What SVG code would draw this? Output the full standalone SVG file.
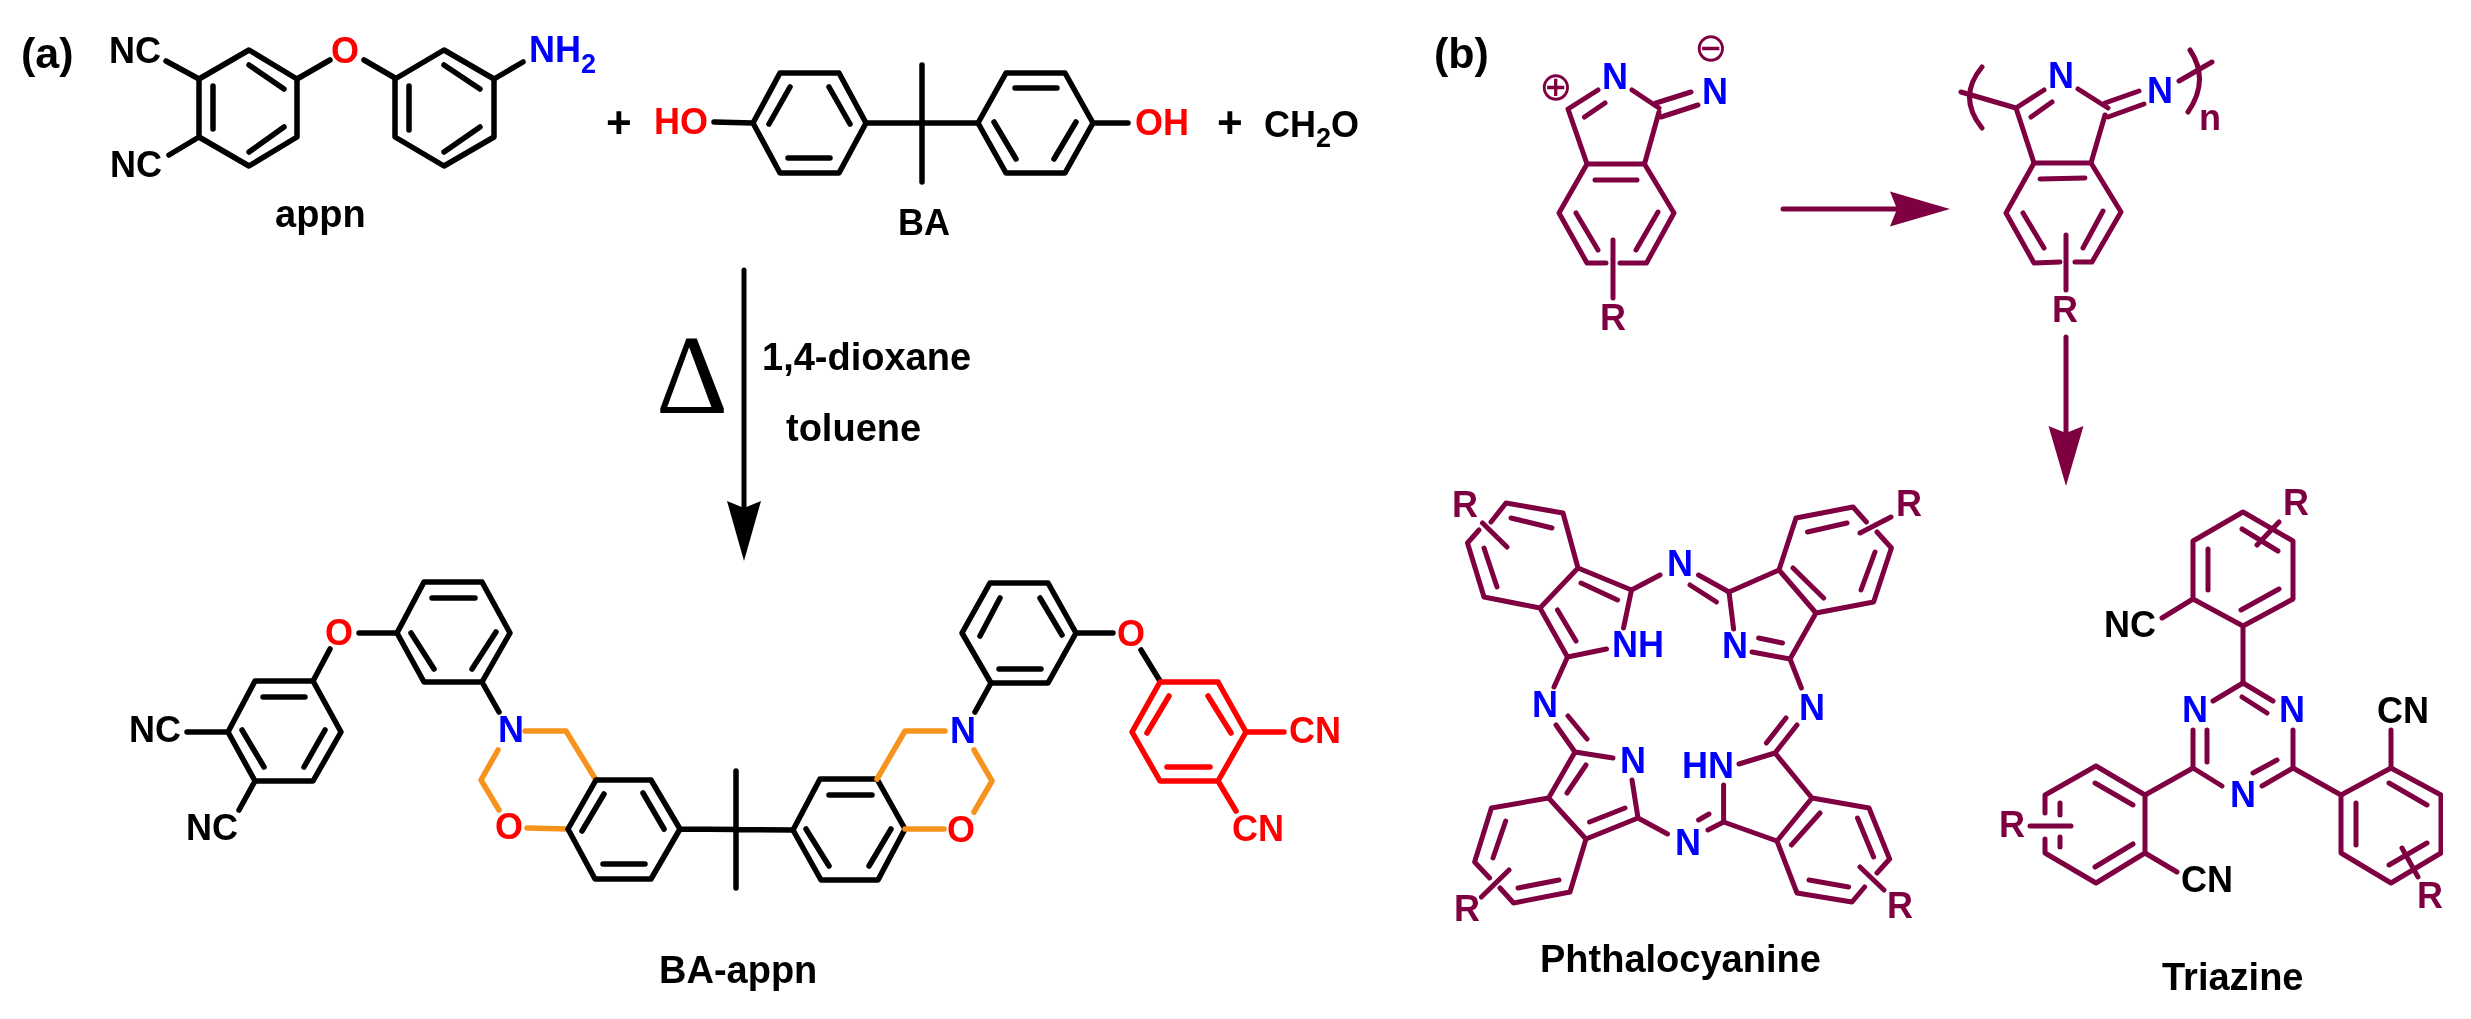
<svg xmlns="http://www.w3.org/2000/svg" width="2471" height="1019" viewBox="0 0 2471 1019">
<defs>
<style>
text{font-family:"Liberation Sans",Arial,sans-serif;font-weight:bold;font-size:36px;fill:#000}
.k,.r,.o,.p{fill:none;stroke-linecap:round;stroke-linejoin:round}
.k{stroke:#000;stroke-width:5.5}
.r{stroke:#ff0000;stroke-width:5.5}
.o{stroke:#f7931e;stroke-width:5.5}
.p{stroke:#7f0040;stroke-width:5}
text.bl{fill:#0000ff}
text.rd{fill:#ff0000}
text.pu{fill:#7f0040}
text.lab{font-size:38px}
text.pan{font-size:43px}
text.pl{font-size:44px}
text.ch{font-family:"DejaVu Sans",sans-serif;font-weight:normal;font-size:40px;fill:#7f0040}
text.del{font-family:"Liberation Serif",serif;font-weight:normal;font-size:112px}
tspan.s{font-size:27px}
</style>
<filter id="soft" x="0" y="0" width="100%" height="100%"><feGaussianBlur stdDeviation="0.7"/></filter>
<marker id="hk" markerUnits="userSpaceOnUse" markerWidth="62" markerHeight="40" viewBox="0 -20 62 40" refX="7" refY="0" orient="auto"><path d="M0,-17 L60,0 L0,17 L7,0 Z" fill="#000"/></marker>
<marker id="hp" markerUnits="userSpaceOnUse" markerWidth="62" markerHeight="40" viewBox="0 -20 62 40" refX="7" refY="0" orient="auto"><path d="M0,-17.5 L60,0 L0,17.5 L7,0 Z" fill="#7f0040"/></marker>
</defs>
<rect width="2471" height="1019" fill="#fff"/>
<g filter="url(#soft)">

<text id="label-a" class="pan" x="21" y="68">(a)</text>
<text id="label-b" class="pan" x="1434" y="68">(b)</text>

<g id="appn">
<path class="k" d="M249,50 L297,79 L297,137 L249,166 L199,137 L199,79 Z M249,65 L284,89 M213,86 L213,129 M249,152 L284,127 M166,61 L199,79 M169,155 L199,137 M297,79 L330,60 M364,60 L395,78"/>
<path class="k" d="M444,50 L494,79 L494,137 L444,166 L395,137 L395,79 Z M444,65 L480,89 M409,86 L409,130 M444,152 L480,127 M494,79 L523,62"/>
<text x="109" y="63">NC</text>
<text x="110" y="177">NC</text>
<text class="rd" x="331" y="63">O</text>
<text class="bl" x="529" y="62">NH<tspan class="s" dy="11">2</tspan></text>
<text class="lab" x="275" y="227">appn</text>
</g>

<g id="plus-1"><text class="pl" x="606" y="138">+</text></g>

<g id="BA">
<path class="k" d="M753,123 L780,73 L839,73 L866,123 L839,173 L780,173 Z M769,124 L790,87 M829,87 L850,124 M788,158 L830,158 M714,122 L753,123 M866,123 L978,123 M922,65 L922,182"/>
<path class="k" d="M978,123 L1006,73 L1065,73 L1093,123 L1065,173 L1006,173 Z M1015,88 L1057,88 M994,122 L1016,159 M1054,159 L1076,122 M1093,123 L1128,123"/>
<text class="rd" x="654" y="134">HO</text>
<text class="rd" x="1135" y="135">OH</text>
<text x="898" y="235">BA</text>
</g>

<g id="plus-2"><text class="pl" x="1217" y="138">+</text></g>
<g id="CH2O"><text x="1264" y="137">CH<tspan class="s" dy="10">2</tspan><tspan dy="-10">O</tspan></text></g>

<g id="conditions">
<text class="del" x="656" y="413">Δ</text>
<text class="lab" x="762" y="370">1,4-dioxane</text>
<text class="lab" x="786" y="441">toluene</text>
</g>

<g id="BA-appn">
<path class="k" d="M255,681 L313,681 L341,732 L313,781 L255,781 L228,732 Z M263,697 L305,697 M325,730 L304,767 M242,730 L264,767 M187,732 L228,732 M255,781 L239,810 M313,681 L330,649 M359,633 L397,633"/>
<path class="k" d="M397,633 L424,582 L482,582 L510,633 L482,682 L424,682 Z M432,598 L475,598 M411,633 L434,669 M472,669 L496,632 M482,682 L499,712"/>
<path class="o" d="M525,731 L566,731 L596,780 M498,750 L481,780 L499,810 M527,828 L568,829"/>
<path class="k" d="M596,780 L651,780 L680,829 L651,879 L595,879 L568,829 Z M604,794 L582,831 M643,793 L664,829 M603,864 L645,864 M680,829 L793,830 M736,771 L736,888"/>
<path class="k" d="M793,830 L820,779 L877,779 L905,829 L878,880 L821,880 Z M829,795 L872,795 M806,829 L829,866 M869,866 L891,829"/>
<path class="o" d="M877,779 L905,731 L945,731 M974,750 L992,781 L974,812 M905,829 L944,829"/>
<path class="k" d="M975,712 L991,683 M991,683 L962,633 L990,583 L1048,583 L1076,633 L1048,683 Z M1000,598 L980,636 M1040,598 L1062,635 M999,669 L1041,669 M1076,633 L1113,633 M1141,650 L1160,681"/>
<path class="r" d="M1160,682 L1218,682 L1246,732 L1218,781 L1160,781 L1132,732 Z M1169,696 L1147,733 M1208,696 L1231,733 M1167,767 L1210,767 M1246,732 L1284,732 M1218,781 L1236,811"/>
<text x="129" y="742">NC</text>
<text x="186" y="840">NC</text>
<text class="rd" x="325" y="645">O</text>
<text class="bl" x="498" y="742">N</text>
<text class="rd" x="495" y="839">O</text>
<text class="bl" x="950" y="743">N</text>
<text class="rd" x="947" y="842">O</text>
<text class="rd" x="1117" y="646">O</text>
<text class="rd" x="1289" y="743">CN</text>
<text class="rd" x="1232" y="841">CN</text>
<text class="lab" x="659" y="983">BA-appn</text>
</g>

<g id="monomer">
<path class="p" d="M1568,109 L1598,90 M1584.5,117 L1605,103 M1632,90 L1659,108 M1656,103 L1691,92 M1661,117 L1698,105 M1568,109 L1587,164 M1659,112 L1644.5,164 M1587,164 L1644.5,164 M1595,180 L1637,180 M1606,263 L1587,263 L1559,213 L1587,164 M1620,263 L1646.5,263 L1674,213 L1644.5,164 M1576,213 L1598,250 M1658,212 L1636,250 M1613,240 L1613,298"/>
<text class="bl" x="1602" y="89">N</text>
<text class="bl" x="1702" y="104">N</text>
<text class="ch" x="1539" y="100">⊕</text>
<text class="ch" x="1694" y="61">⊖</text>
<text class="pu" x="1600" y="330">R</text>
</g>

<g id="polymer">
<path class="p" d="M1961,92 L2016,108 L2044,90 M2031,117 L2052,102 M2078,89 L2108,108 M2105,103 L2139,91 M2108,117 L2144,104 M2016,108 L2034,163 M2105,115 L2091,163 L2034,163 M2040,179 L2085,178 M2060,262 L2034,263 L2006,213 L2034,163 M2075,262 L2092,262 L2121,212 L2091,163 M2023,213 L2044,248 M2103,211 L2083,248 M2066,235 L2066,290 M1982,67 Q1957,97 1982,128 M2190,50 Q2210,80 2188,112 M2179,81 L2212,62"/>
<text class="bl" x="2048" y="88">N</text>
<text class="bl" x="2147" y="103">N</text>
<text class="pu" x="2052" y="322">R</text>
<text class="pu" x="2199" y="130">n</text>
</g>

<g id="phthalocyanine">
<path class="p" d="M1491,522 L1506,503 L1563,513 L1578,568 L1540,608 L1484,597 L1467.5,543 L1479,530 M1511,518 L1552,528 M1484,548 L1497,587 M1482.5,523 L1507,547 M1581,583 L1617.5,600 M1557.5,610 L1576,641 M1578,568 L1631.5,590 L1623.5,628 M1540,608 L1567.5,657 L1606.5,649 M1631.5,590 L1660,575 M1698.5,575 L1729,592 M1690,585 L1716.5,602"/>
<path class="p" d="M1729,592 L1779,570 M1729,592 L1733.6,629 M1752,652 L1790,659 M1758.6,638 L1782.5,643 M1790,659 L1816,613 M1779,570 L1816,613 M1793,568 L1823.6,598 M1866.4,522 L1853,507 L1796,518 L1779,570 M1877,532 L1891.4,548 L1873.6,602 L1816,613 M1807.5,532 L1847,523 M1875,552 L1861,590 M1860,533 L1891,517 M1790,659 L1801.4,688"/>
<path class="p" d="M1797,725 L1775,753 M1786,718 L1766.4,743 M1775,753 L1739,764 M1775,753 L1812,798 M1723.6,785 L1723.6,822 L1777,841 L1812,798 M1791.4,845 L1820,813 M1889.6,859 L1869,808 L1812,798 M1889.6,859 L1877,873 M1864.6,887 L1852,902 L1797,893 L1777,841 M1857.5,818 L1873.6,857 M1809,880 L1848.6,887 M1860,867 L1884,890 M1723.6,822 L1708,830 M1709,814 L1698.6,820"/>
<path class="p" d="M1667.5,834 L1638,818 L1632,780 M1613,758 L1575,752 L1548.6,798 L1586,839 L1638,818 M1586,765 L1567,793 M1589.6,822 L1625,808 M1548.6,798 L1491.4,808 L1474.6,862 L1489.6,878 M1500,888 L1513.6,903 L1570,892 L1586,839 M1505.7,821 L1493,858 M1518,888 L1559,880 M1481.4,897 L1509,870 M1567.5,657 L1554,687 M1556,725 L1575,752 M1568,716 L1587,739"/>
<text class="bl" x="1612" y="657">NH</text>
<text class="bl" x="1667" y="576">N</text>
<text class="bl" x="1722" y="658">N</text>
<text class="bl" x="1799" y="720">N</text>
<text class="bl" x="1682" y="778">HN</text>
<text class="bl" x="1675" y="855">N</text>
<text class="bl" x="1620" y="773">N</text>
<text class="bl" x="1532" y="717">N</text>
<text class="pu" x="1452" y="517">R</text>
<text class="pu" x="1896" y="516">R</text>
<text class="pu" x="1887" y="918">R</text>
<text class="pu" x="1454" y="921">R</text>
<text class="lab" x="1540" y="972">Phthalocyanine</text>
</g>

<g id="triazine">
<path class="p" d="M2243,512 L2293,541 L2293,599 L2243,626 L2193,599 L2193,541 Z M2208,549 L2208,590 M2241,610 L2279,589 M2242,529 L2278,551 M2257,545 L2279,522 M2193,599 L2162,618 M2243,626 L2243,683"/>
<path class="p" d="M2213,701 L2243,683 L2273,701 M2242,697 L2267,713 M2193,730 L2193,768 L2222,786 M2207,730 L2207,762 M2293,730 L2293,768 L2262,786 M2277,760 L2253,773 M2193,768 L2145,795"/>
<path class="p" d="M2045,813 L2045,795 L2096,766 L2145,795 L2145,853 L2096,883 L2045,853 L2045,839 M2095,783 L2133,805 M2095,867 L2133,844 M2060,803 L2060,815 M2060,837 L2060,847 M2030,826 L2071,826 M2145,853 L2177,872"/>
<path class="p" d="M2293,768 L2341,795 M2341,795 L2391,768 L2441,795 L2441,853 L2391,883 L2341,853 Z M2356,803 L2356,845 M2389,783 L2427,805 M2389,865 L2427,843 M2402,848 L2418,877 M2391,730 L2391,768"/>
<text class="bl" x="2182" y="722">N</text>
<text class="bl" x="2279" y="722">N</text>
<text class="bl" x="2230" y="807">N</text>
<text x="2104" y="637">NC</text>
<text x="2181" y="892">CN</text>
<text x="2377" y="723">CN</text>
<text class="pu" x="2283" y="515">R</text>
<text class="pu" x="1999" y="837">R</text>
<text class="pu" x="2417" y="908">R</text>
<text class="lab" x="2162" y="990">Triazine</text>
</g>

<g id="connectors">
<path fill="none" stroke="#000" stroke-width="5" stroke-linecap="round" d="M744,270 L744,508" marker-end="url(#hk)"/>
<path fill="none" stroke="#7f0040" stroke-width="5" stroke-linecap="round" d="M1783,209 L1897,209" marker-end="url(#hp)"/>
<path fill="none" stroke="#7f0040" stroke-width="5" stroke-linecap="round" d="M2066,337 L2066,433" marker-end="url(#hp)"/>
</g>
</g>
</svg>
